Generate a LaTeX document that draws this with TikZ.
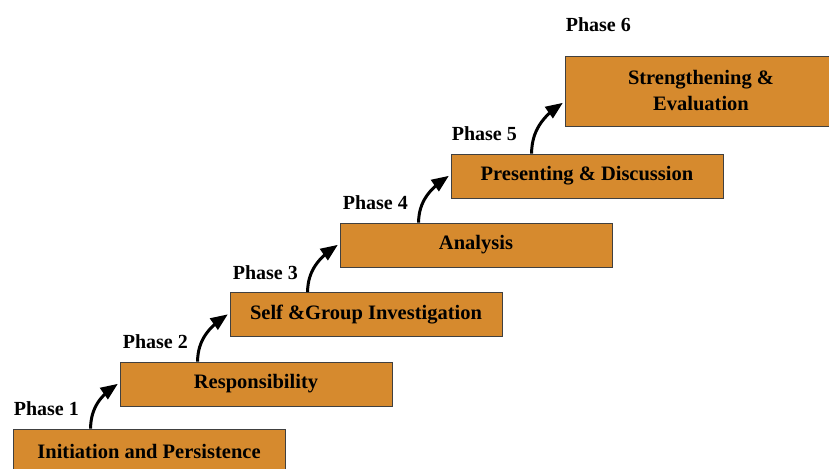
\documentclass[tikz,border=0pt]{standalone}
\usepackage{fontspec}
\setmainfont{Liberation Serif}
\usepackage{tikz}
\usetikzlibrary{arrows}
\definecolor{stagefill}{RGB}{214,138,46}

\begin{document}
\begin{tikzpicture}[x=1pt,y=1pt,>=triangle 45,
	stage/.style={draw=black!75,fill=stagefill,line width=0.8pt,minimum width=272pt,minimum height=44pt,inner sep=0pt,align=center,font=\fontsize{20.5}{26}\selectfont\bfseries},
	phase/.style={anchor=base west,inner sep=0pt,font=\fontsize{20}{24}\selectfont\bfseries},
	climb/.style={->,line width=3pt}]
	\useasboundingbox (0,0) rectangle (829,468);
	% the steps
	\node [stage] (b1) at (149,17) {Initiation and Persistence};
	\node [stage] (b2) at (256,84) {Responsibility};
	\node [stage] (b3) at (366,153.5) {Self \&Group Investigation};
	\node [stage] (b4) at (476,223) {Analysis};
	\node [stage] (b5) at (587,292) {Presenting \& Discussion};
	\node [stage,minimum height=70pt] (b6) at (701,377) {Strengthening \&\\Evaluation};
	% labels
	\node [phase] (p1) at ([xshift=1pt,yshift=13pt]b1.north west) {Phase 1};
	\node [phase] (p2) at ([xshift=3pt,yshift=13pt]b2.north west) {Phase 2};
	\node [phase] (p3) at ([xshift=3pt,yshift=13pt]b3.north west) {Phase 3};
	\node [phase] (p4) at ([xshift=3pt,yshift=13pt]b4.north west) {Phase 4};
	\node [phase] (p5) at ([xshift=1pt,yshift=13pt]b5.north west) {Phase 5};
	\node [phase] (p6) at ([xshift=1pt,yshift=24pt]b6.north west) {Phase 6};
	% arrows
	\draw [climb] ([xshift=78pt]b1.north west) to [out=90,in=215] ([xshift=-2pt]b2.west);
	\draw [climb] ([xshift=78pt]b2.north west) to [out=90,in=215] ([xshift=-2pt]b3.west);
	\draw [climb] ([xshift=78pt]b3.north west) to [out=90,in=215] ([xshift=-2pt]b4.west);
	\draw [climb] ([xshift=79pt]b4.north west) to [out=90,in=215] ([xshift=-2pt]b5.west);
	\draw [climb] ([xshift=81pt]b5.north west) to [out=90,in=215] ([xshift=-2pt,yshift=-12pt]b6.west);
\end{tikzpicture}
\end{document}
